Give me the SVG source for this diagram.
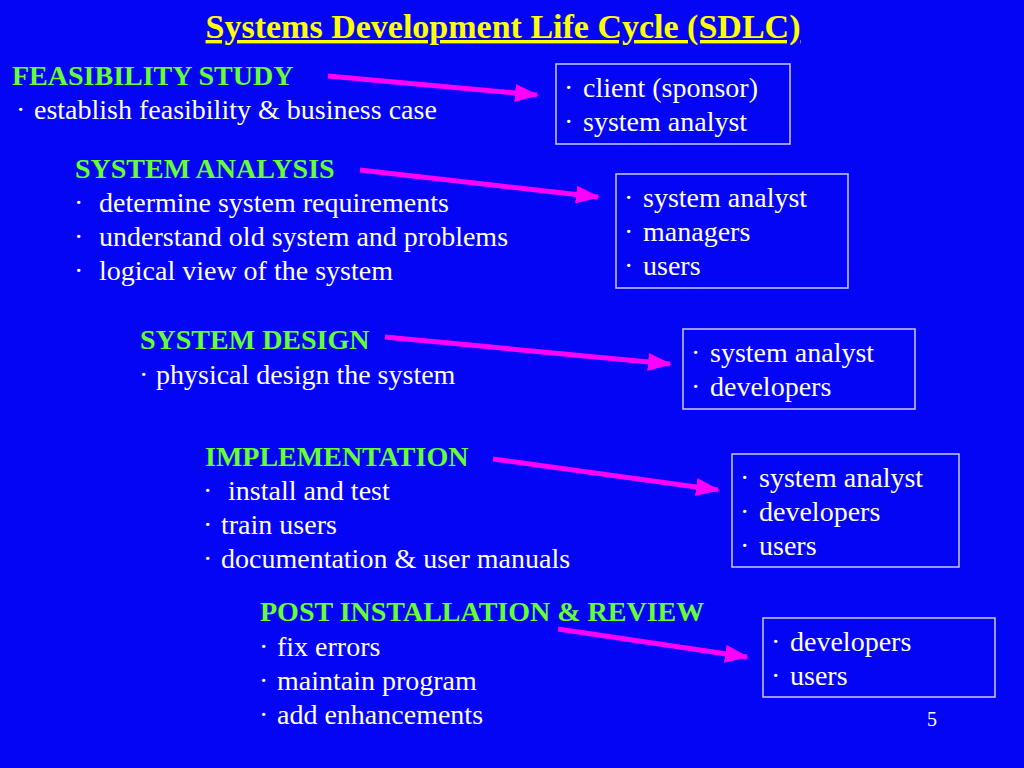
<svg xmlns="http://www.w3.org/2000/svg" width="1024" height="768" viewBox="0 0 1024 768">
<style>
text{font-family:"Liberation Serif","Times New Roman",serif;}
.t{fill:#FFFF00;font-size:34px;font-weight:bold;text-decoration:underline;}
.h{fill:#66FF33;font-size:28px;font-weight:bold;}
.b{fill:#FFFFFF;font-size:28px;}
.box{fill:none;stroke:#C8C8FF;stroke-width:1.5;}
.ar{stroke:#FF00FF;stroke-width:5;fill:none;marker-end:url(#ah);}
</style>
<defs>
<marker id="ah" markerUnits="userSpaceOnUse" markerWidth="24" markerHeight="18" refX="22" refY="9" orient="auto">
<path d="M0,0 L24,9 L0,18 Z" fill="#FF00FF"/>
</marker>
</defs>
<rect x="0" y="0" width="1024" height="768" fill="#0505F5"/>
<text class="t" x="503" y="38" text-anchor="middle">Systems Development Life Cycle (SDLC)</text>

<g id="feasibility">
<text class="h" x="12" y="85">FEASIBILITY STUDY</text>
<text class="b" y="119"><tspan x="16">·</tspan><tspan x="34">establish feasibility &amp; business case</tspan></text>
</g>
<g id="analysis">
<text class="h" x="75" y="178">SYSTEM ANALYSIS</text>
<text class="b" y="212"><tspan x="74">·</tspan><tspan x="99">determine system requirements</tspan></text>
<text class="b" y="246"><tspan x="74">·</tspan><tspan x="99">understand old system and problems</tspan></text>
<text class="b" y="280"><tspan x="74">·</tspan><tspan x="99">logical view of the system</tspan></text>
</g>
<g id="design">
<text class="h" x="140" y="349">SYSTEM DESIGN</text>
<text class="b" y="384"><tspan x="139">·</tspan><tspan x="156">physical design the system</tspan></text>
</g>
<g id="implementation">
<text class="h" x="205" y="466">IMPLEMENTATION</text>
<text class="b" y="500"><tspan x="203">·</tspan><tspan x="228">install  and test</tspan></text>
<text class="b" y="534"><tspan x="203">·</tspan><tspan x="221">train users</tspan></text>
<text class="b" y="568"><tspan x="203">·</tspan><tspan x="221">documentation &amp; user manuals</tspan></text>
</g>
<g id="post">
<text class="h" x="260" y="621">POST INSTALLATION &amp; REVIEW</text>
<text class="b" y="656"><tspan x="259">·</tspan><tspan x="277">fix errors</tspan></text>
<text class="b" y="690"><tspan x="259">·</tspan><tspan x="277">maintain program</tspan></text>
<text class="b" y="724"><tspan x="259">·</tspan><tspan x="277">add enhancements</tspan></text>
</g>

<g id="box1">
<rect class="box" x="556" y="64" width="234" height="80"/>
<text class="b" y="97"><tspan x="564">·</tspan><tspan x="583">client (sponsor)</tspan></text>
<text class="b" y="131"><tspan x="564">·</tspan><tspan x="583">system analyst</tspan></text>
</g>
<g id="box2">
<rect class="box" x="616" y="174" width="232" height="114"/>
<text class="b" y="207"><tspan x="624">·</tspan><tspan x="643">system analyst</tspan></text>
<text class="b" y="241"><tspan x="624">·</tspan><tspan x="643">managers</tspan></text>
<text class="b" y="275"><tspan x="624">·</tspan><tspan x="643">users</tspan></text>
</g>
<g id="box3">
<rect class="box" x="683" y="329" width="232" height="80"/>
<text class="b" y="362"><tspan x="691">·</tspan><tspan x="710">system analyst</tspan></text>
<text class="b" y="396"><tspan x="691">·</tspan><tspan x="710">developers</tspan></text>
</g>
<g id="box4">
<rect class="box" x="732" y="454" width="227" height="113"/>
<text class="b" y="487"><tspan x="740">·</tspan><tspan x="759">system analyst</tspan></text>
<text class="b" y="521"><tspan x="740">·</tspan><tspan x="759">developers</tspan></text>
<text class="b" y="555"><tspan x="740">·</tspan><tspan x="759">users</tspan></text>
</g>
<g id="box5">
<rect class="box" x="763" y="618" width="232" height="79"/>
<text class="b" y="651"><tspan x="771">·</tspan><tspan x="790">developers</tspan></text>
<text class="b" y="685"><tspan x="771">·</tspan><tspan x="790">users</tspan></text>
</g>

<g id="connectors">
<line class="ar" x1="328" y1="76" x2="537" y2="95"/>
<line class="ar" x1="360" y1="170" x2="598" y2="197"/>
<line class="ar" x1="385" y1="337" x2="670" y2="364"/>
<line class="ar" x1="493" y1="459" x2="718" y2="490"/>
<line class="ar" x1="558" y1="629" x2="747" y2="657"/>
</g>

<text x="927" y="726" font-size="20" fill="#FFFFFF">5</text>
</svg>
